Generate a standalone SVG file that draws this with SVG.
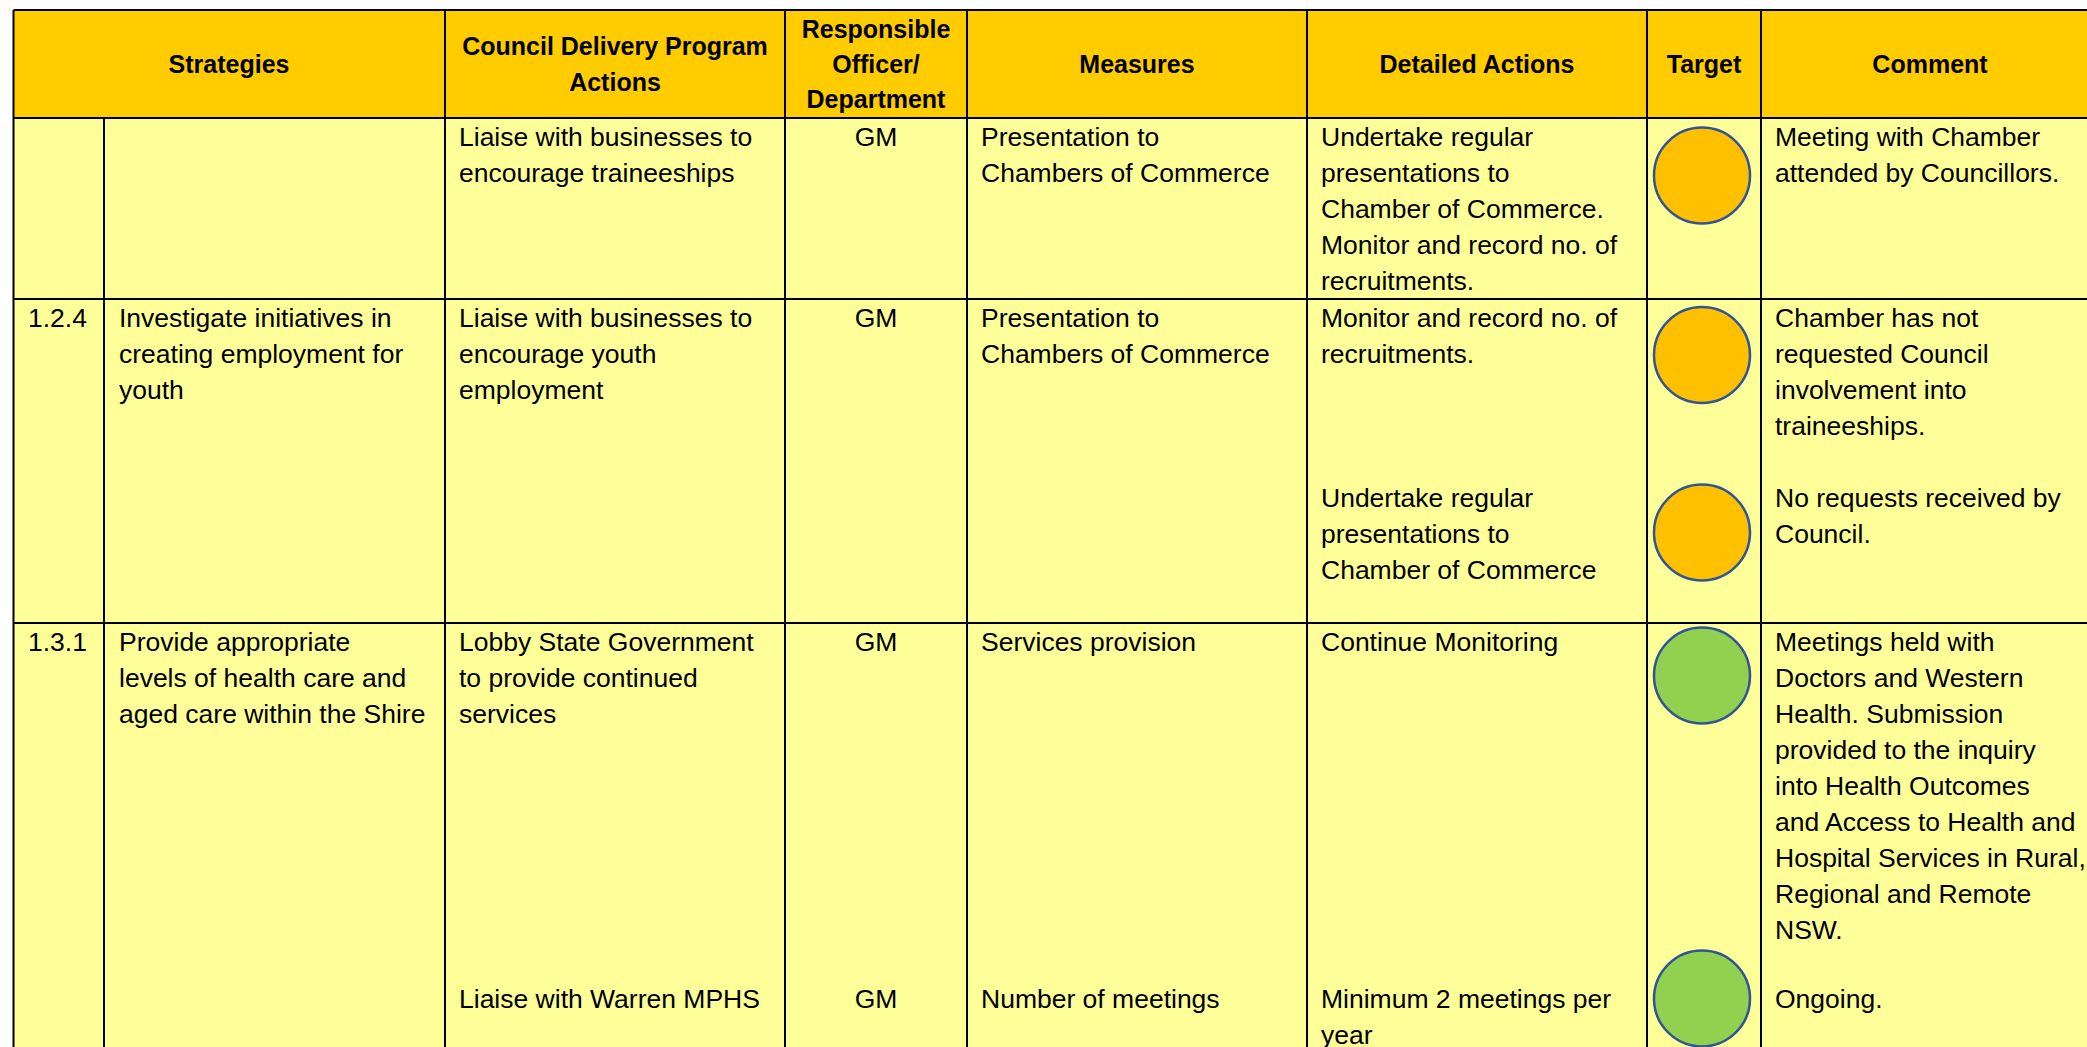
<svg xmlns="http://www.w3.org/2000/svg" width="2087" height="1047" viewBox="0 0 2087 1047">
<style>
.hd{fill:#FFCC00}
.bd{fill:#FFFF99}
.ln{stroke:#000;stroke-width:2;fill:none}
.th{font-family:"Liberation Sans",Arial,sans-serif;font-weight:bold;font-size:25px;fill:#000;text-anchor:middle}
.t{font-family:"Liberation Sans",Arial,sans-serif;font-size:26.5px;fill:#000}
.c{text-anchor:middle}
.amber{fill:#FFC000;stroke:#2F5597;stroke-width:2.5}
.green{fill:#92D050;stroke:#2F5597;stroke-width:2.5}
</style>
<rect width="2087" height="1047" fill="#fff"/>
<g id="backgrounds">
<rect class="hd" x="13.5" y="10" width="2080" height="108"/>
<rect class="bd" x="13.5" y="118" width="2080" height="940"/>
</g>
<g id="header">
<text class="th" x="229" y="73">Strategies</text>
<text class="th" x="615" y="55">Council Delivery Program</text>
<text class="th" x="615" y="91">Actions</text>
<text class="th" x="876" y="38">Responsible</text>
<text class="th" x="876" y="73">Officer/</text>
<text class="th" x="876" y="108">Department</text>
<text class="th" x="1137" y="73">Measures</text>
<text class="th" x="1477" y="73">Detailed Actions</text>
<text class="th" x="1704" y="73">Target</text>
<text class="th" x="1930" y="73">Comment</text>
</g>
<g id="grid">
<line class="ln" x1="13.5" y1="10" x2="2087" y2="10"/>
<line class="ln" x1="13.5" y1="118" x2="2087" y2="118"/>
<line class="ln" x1="13.5" y1="299" x2="2087" y2="299"/>
<line class="ln" x1="13.5" y1="623" x2="2087" y2="623"/>
<line class="ln" x1="13.5" y1="10" x2="13.5" y2="1047"/>
<line class="ln" x1="104" y1="118" x2="104" y2="1047"/>
<line class="ln" x1="445" y1="10" x2="445" y2="1047"/>
<line class="ln" x1="785" y1="10" x2="785" y2="1047"/>
<line class="ln" x1="967" y1="10" x2="967" y2="1047"/>
<line class="ln" x1="1307" y1="10" x2="1307" y2="1047"/>
<line class="ln" x1="1647" y1="10" x2="1647" y2="1047"/>
<line class="ln" x1="1761" y1="10" x2="1761" y2="1047"/>
</g>
<g id="row1">
<text class="t" x="459" y="146">Liaise with businesses to</text>
<text class="t" x="459" y="182">encourage traineeships</text>
<text class="t c" x="876" y="146">GM</text>
<text class="t" x="981" y="146">Presentation to</text>
<text class="t" x="981" y="182">Chambers of Commerce</text>
<text class="t" x="1321" y="146">Undertake regular</text>
<text class="t" x="1321" y="182">presentations to</text>
<text class="t" x="1321" y="218">Chamber of Commerce.</text>
<text class="t" x="1321" y="254">Monitor and record no. of</text>
<text class="t" x="1321" y="290">recruitments.</text>
<circle class="amber" cx="1702" cy="175.5" r="48"/>
<text class="t" x="1775" y="146">Meeting with Chamber</text>
<text class="t" x="1775" y="182">attended by Councillors.</text>
</g>
<g id="row2">
<text class="t" x="28" y="327">1.2.4</text>
<text class="t" x="119" y="327">Investigate initiatives in</text>
<text class="t" x="119" y="363">creating employment for</text>
<text class="t" x="119" y="399">youth</text>
<text class="t" x="459" y="327">Liaise with businesses to</text>
<text class="t" x="459" y="363">encourage youth</text>
<text class="t" x="459" y="399">employment</text>
<text class="t c" x="876" y="327">GM</text>
<text class="t" x="981" y="327">Presentation to</text>
<text class="t" x="981" y="363">Chambers of Commerce</text>
<text class="t" x="1321" y="327">Monitor and record no. of</text>
<text class="t" x="1321" y="363">recruitments.</text>
<text class="t" x="1321" y="507">Undertake regular</text>
<text class="t" x="1321" y="543">presentations to</text>
<text class="t" x="1321" y="579">Chamber of Commerce</text>
<circle class="amber" cx="1702" cy="355" r="48"/>
<circle class="amber" cx="1702" cy="532.5" r="48"/>
<text class="t" x="1775" y="327">Chamber has not</text>
<text class="t" x="1775" y="363">requested Council</text>
<text class="t" x="1775" y="399">involvement into</text>
<text class="t" x="1775" y="435">traineeships.</text>
<text class="t" x="1775" y="507">No requests received by</text>
<text class="t" x="1775" y="543">Council.</text>
</g>
<g id="row3">
<text class="t" x="28" y="651">1.3.1</text>
<text class="t" x="119" y="651">Provide appropriate</text>
<text class="t" x="119" y="687">levels of health care and</text>
<text class="t" x="119" y="723">aged care within the Shire</text>
<text class="t" x="459" y="651">Lobby State Government</text>
<text class="t" x="459" y="687">to provide continued</text>
<text class="t" x="459" y="723">services</text>
<text class="t" x="459" y="1008">Liaise with Warren MPHS</text>
<text class="t c" x="876" y="651">GM</text>
<text class="t c" x="876" y="1008">GM</text>
<text class="t" x="981" y="651">Services provision</text>
<text class="t" x="981" y="1008">Number of meetings</text>
<text class="t" x="1321" y="651">Continue Monitoring</text>
<text class="t" x="1321" y="1008">Minimum 2 meetings per</text>
<text class="t" x="1321" y="1044">year</text>
<circle class="green" cx="1702" cy="675.5" r="48"/>
<circle class="green" cx="1702" cy="998.5" r="48"/>
<text class="t" x="1775" y="651">Meetings held with</text>
<text class="t" x="1775" y="687">Doctors and Western</text>
<text class="t" x="1775" y="723">Health. Submission</text>
<text class="t" x="1775" y="759">provided to the inquiry</text>
<text class="t" x="1775" y="795">into Health Outcomes</text>
<text class="t" x="1775" y="831">and Access to Health and</text>
<text class="t" x="1775" y="867">Hospital Services in Rural,</text>
<text class="t" x="1775" y="903">Regional and Remote</text>
<text class="t" x="1775" y="939">NSW.</text>
<text class="t" x="1775" y="1008">Ongoing.</text>
</g>
</svg>
